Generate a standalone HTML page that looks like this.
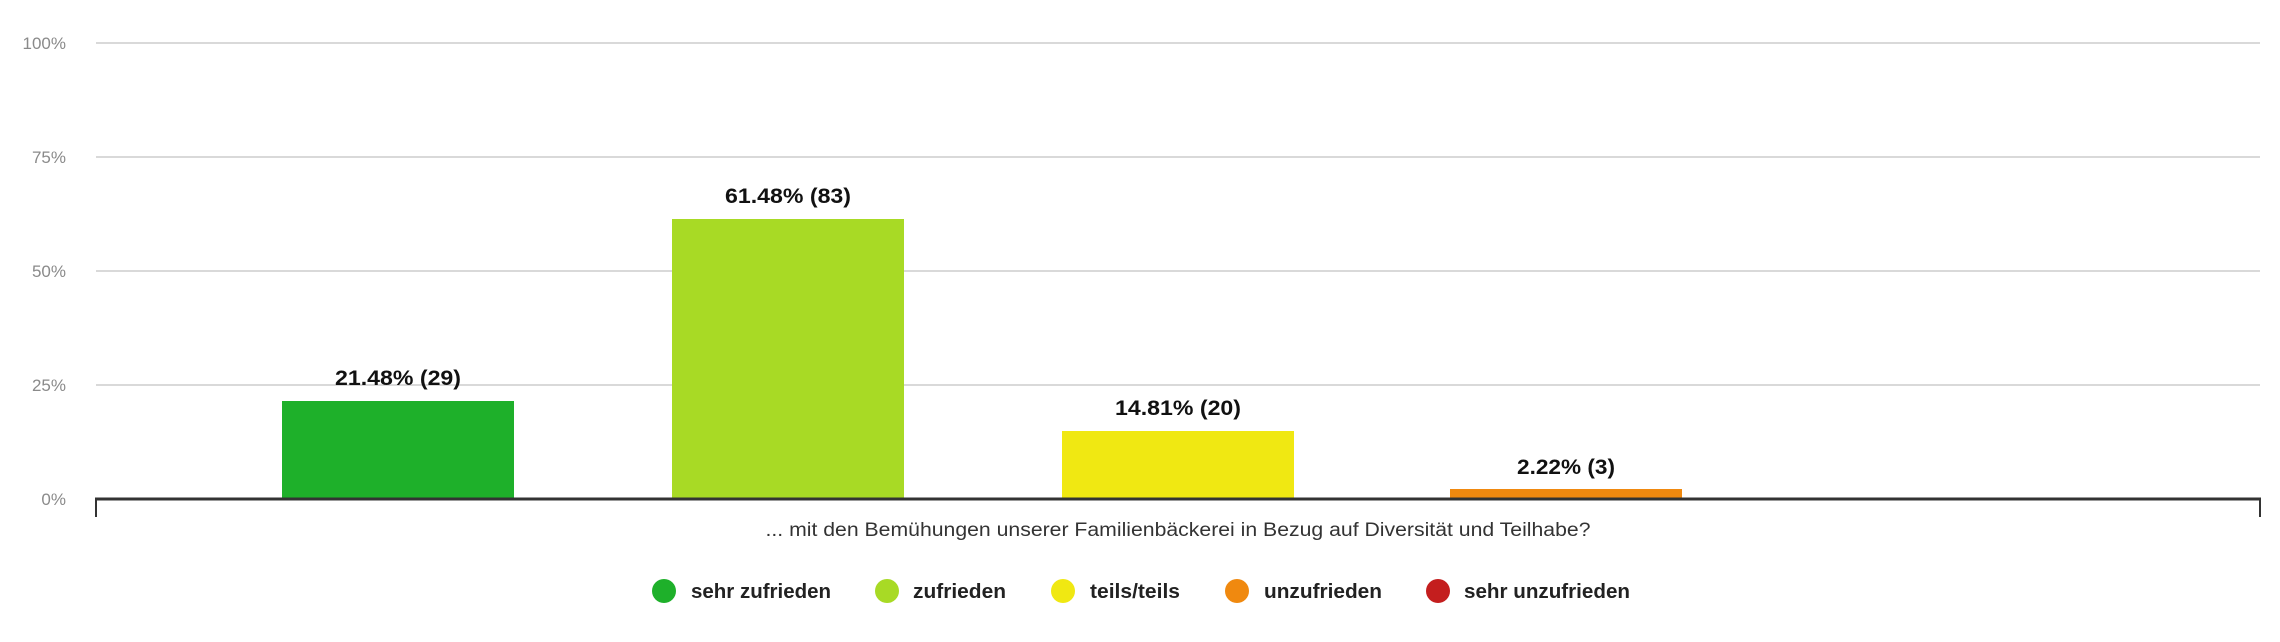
<!DOCTYPE html>
<html><head><meta charset="utf-8"><style>html,body{margin:0;padding:0;background:#fff}svg{display:block}</style></head>
<body>
<svg width="2280" height="642" viewBox="0 0 2280 642" xmlns="http://www.w3.org/2000/svg" font-family="Liberation Sans, sans-serif">
<g stroke="#d9d9d9" stroke-width="2">
<line x1="96" y1="43" x2="2260" y2="43"/>
<line x1="96" y1="157" x2="2260" y2="157"/>
<line x1="96" y1="271" x2="2260" y2="271"/>
<line x1="96" y1="385" x2="2260" y2="385"/>
</g>
<g fill="#8a8a8a" font-size="17" text-anchor="end">
<text x="66" y="49">100%</text>
<text x="66" y="163">75%</text>
<text x="66" y="277">50%</text>
<text x="66" y="391">25%</text>
<text x="66" y="505">0%</text>
</g>
<rect x="282" y="401" width="232" height="98" fill="#1eb02a"/>
<rect x="672" y="219" width="232" height="280" fill="#a8da25"/>
<rect x="1062" y="431" width="232" height="68" fill="#f0e812"/>
<rect x="1450" y="489" width="232" height="10" fill="#f0890f"/>
<line x1="95" y1="499" x2="2261" y2="499" stroke="#333" stroke-width="3"/>
<line x1="96" y1="498" x2="96" y2="517" stroke="#333" stroke-width="2"/>
<line x1="2260" y1="498" x2="2260" y2="517" stroke="#333" stroke-width="2"/>
<g fill="#111" font-size="21" font-weight="bold" text-anchor="middle">
<text x="398" y="385" textLength="126" lengthAdjust="spacingAndGlyphs">21.48% (29)</text>
<text x="788" y="203" textLength="126" lengthAdjust="spacingAndGlyphs">61.48% (83)</text>
<text x="1178" y="415" textLength="126" lengthAdjust="spacingAndGlyphs">14.81% (20)</text>
<text x="1566" y="474" textLength="98" lengthAdjust="spacingAndGlyphs">2.22% (3)</text>
</g>
<text x="1178" y="536" fill="#333" font-size="19" text-anchor="middle" textLength="825" lengthAdjust="spacingAndGlyphs">... mit den Bemühungen unserer Familienbäckerei in Bezug auf Diversität und Teilhabe?</text>
<g font-size="20" fill="#222" font-weight="bold">
<circle cx="664" cy="591" r="12" fill="#1eb02a"/>
<text x="691" y="598" textLength="140" lengthAdjust="spacingAndGlyphs">sehr zufrieden</text>
<circle cx="887" cy="591" r="12" fill="#a8da25"/>
<text x="913" y="598" textLength="93" lengthAdjust="spacingAndGlyphs">zufrieden</text>
<circle cx="1063" cy="591" r="12" fill="#f0e812"/>
<text x="1090" y="598" textLength="90" lengthAdjust="spacingAndGlyphs">teils/teils</text>
<circle cx="1237" cy="591" r="12" fill="#f0890f"/>
<text x="1264" y="598" textLength="118" lengthAdjust="spacingAndGlyphs">unzufrieden</text>
<circle cx="1438" cy="591" r="12" fill="#c41e1e"/>
<text x="1464" y="598" textLength="166" lengthAdjust="spacingAndGlyphs">sehr unzufrieden</text>
</g>
</svg>
</body></html>
